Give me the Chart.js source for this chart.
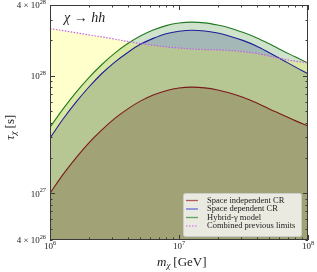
<!DOCTYPE html>
<html>
<head>
<meta charset="utf-8">
<script src="https://cdn.jsdelivr.net/npm/chart.js@4.4.1/dist/chart.umd.min.js"></script>
<style>
  html, body { margin: 0; padding: 0; background: #fff; }
</style>
</head>
<body>
<canvas id="chart" width="317" height="272"></canvas>
<script>
// masses (GeV) and lifetime limits (s)
const masses = [1e6, 1.259e6, 1.585e6, 1.995e6, 2.512e6, 3.162e6, 3.981e6, 5.012e6, 6.310e6, 7.943e6,
                1e7, 1.259e7, 1.585e7, 1.995e7, 2.512e7, 3.162e7, 3.981e7, 5.012e7, 6.310e7, 7.943e7, 1e8];
const spaceIndependent = [1.00e27, 1.44e27, 1.99e27, 2.67e27, 3.44e27, 4.31e27, 5.20e27, 6.08e27, 6.85e27, 7.46e27,
                          7.87e27, 8.00e27, 7.89e27, 7.57e27, 7.10e27, 6.53e27, 5.89e27, 5.22e27, 4.66e27, 4.15e27, 3.74e27];
const spaceDependent = [2.95e27, 4.26e27, 5.93e27, 7.98e27, 1.04e28, 1.30e28, 1.57e28, 1.85e28, 2.08e28, 2.28e28,
                        2.39e28, 2.44e28, 2.40e28, 2.31e28, 2.16e28, 1.99e28, 1.79e28, 1.57e28, 1.37e28, 1.19e28, 1.04e28];
const hybridGamma = [3.64e27, 5.20e27, 7.19e27, 9.60e27, 1.24e28, 1.55e28, 1.87e28, 2.18e28, 2.45e28, 2.67e28,
                     2.81e28, 2.86e28, 2.82e28, 2.70e28, 2.54e28, 2.33e28, 2.11e28, 1.87e28, 1.64e28, 1.45e28, 1.28e28];
const combinedPrevious = [2.52e28, 2.42e28, 2.32e28, 2.23e28, 2.14e28, 2.05e28, 1.96e28, 1.88e28, 1.82e28, 1.76e28,
                          1.72e28, 1.69e28, 1.67e28, 1.66e28, 1.64e28, 1.60e28, 1.55e28, 1.47e28, 1.39e28, 1.33e28, 1.29e28];

const seriesLabels = ['Space independent CR', 'Space dependent CR', 'Hybrid-\u03b3 model', 'Combined previous limits'];
const xTicks = [1e6, 1e7, 1e8];
const xTickLabels = ['10^6', '10^7', '10^8'];
const yTicks = [4e26, 1e27, 1e28, 4e28];
const yTickLabels = ['4 \u00d7 10^26', '10^27', '10^28', '4 \u00d7 10^28'];

const SERIF = "'Liberation Serif', 'DejaVu Serif', serif";

const toPoints = ys => masses.map((m, i) => ({ x: m, y: ys[i] }));

// draw "base^exp" text with a raised smaller exponent
function drawPowText(ctx, text, x, y, size, align) {
    const parts = text.split('^');
    const base = parts[0], exp = parts[1] || '';
    ctx.font = size + 'px ' + SERIF;
    const wb = ctx.measureText(base).width;
    ctx.font = (size * 0.7) + 'px ' + SERIF;
    const we = ctx.measureText(exp).width;
    const total = wb + we;
    let x0 = x;
    if (align === 'center') x0 = x - total / 2;
    else if (align === 'right') x0 = x - total;
    ctx.textAlign = 'left';
    ctx.textBaseline = 'middle';
    ctx.font = size + 'px ' + SERIF;
    ctx.fillText(base, x0, y);
    ctx.font = (size * 0.7) + 'px ' + SERIF;
    ctx.fillText(exp, x0 + wb, y - size * 0.38);
}

const framePlugin = {
    id: 'frame',
    afterDraw(chart) {
        const ctx = chart.ctx;
        const a = chart.chartArea;
        const xs = chart.scales.x, ys = chart.scales.y;
        ctx.save();

        // frame
        ctx.strokeStyle = '#3a3a3a';
        ctx.lineWidth = 1;
        ctx.strokeRect(a.left + 0.5, a.top + 0.5, a.right - a.left - 1, a.bottom - a.top - 1);

        // inward ticks on all sides
        ctx.beginPath();
        for (let d = 6; d <= 8; d++) {
            for (let k = 1; k <= 9; k++) {
                const v = k * Math.pow(10, d);
                if (v < 1e6 || v > 1e8) continue;
                const px = Math.round(xs.getPixelForValue(v)) + 0.5;
                const len = k === 1 ? 5 : 2.5;
                ctx.moveTo(px, a.bottom); ctx.lineTo(px, a.bottom - len);
                ctx.moveTo(px, a.top); ctx.lineTo(px, a.top + len);
            }
        }
        for (let d = 26; d <= 28; d++) {
            for (let k = 1; k <= 9; k++) {
                const v = k * Math.pow(10, d);
                if (v < 4e26 || v > 4e28) continue;
                const py = Math.round(ys.getPixelForValue(v)) + 0.5;
                const len = (k === 1) ? 5 : 2.5;
                ctx.moveTo(a.left, py); ctx.lineTo(a.left + len, py);
                ctx.moveTo(a.right, py); ctx.lineTo(a.right - len, py);
            }
        }
        ctx.stroke();

        // tick labels
        ctx.fillStyle = '#222';
        xTicks.forEach((v, i) => {
            drawPowText(ctx, xTickLabels[i], xs.getPixelForValue(v), a.bottom + 7, 9, 'center');
        });
        yTicks.forEach((v, i) => {
            drawPowText(ctx, yTickLabels[i], a.left - 4, ys.getPixelForValue(v) + 1, 9, 'right');
        });

        // axis titles
        ctx.textBaseline = 'middle';
        ctx.textAlign = 'left';
        let cx = (a.left + a.right) / 2 - 22, cy = 263;
        ctx.font = 'italic 13px ' + SERIF;
        ctx.fillText('m', cx, cy);
        let w = ctx.measureText('m').width;
        ctx.font = 'italic 9px ' + SERIF;
        ctx.fillText('\u03c7', cx + w, cy + 3);
        w += ctx.measureText('\u03c7').width + 3;
        ctx.font = '13px ' + SERIF;
        ctx.fillText('[GeV]', cx + w, cy);

        ctx.save();
        ctx.translate(11, 122);
        ctx.rotate(-Math.PI / 2);
        ctx.font = 'italic 13px ' + SERIF;
        ctx.fillText('\u03c4', -18, 0);
        w = ctx.measureText('\u03c4').width;
        ctx.font = 'italic 9px ' + SERIF;
        ctx.fillText('\u03c7', -18 + w, 3);
        w += ctx.measureText('\u03c7').width + 3;
        ctx.font = '13px ' + SERIF;
        ctx.fillText('[s]', -18 + w, 0);
        ctx.restore();

        // channel label
        ctx.font = 'italic 14px ' + SERIF;
        ctx.textBaseline = 'alphabetic';
        ctx.fillText('\u03c7 \u2192 hh', 64, 22);

        // legend
        const lx = 183, ly = 193, lw = 118, lh = 43;
        ctx.fillStyle = 'rgba(255,255,255,0.78)';
        ctx.strokeStyle = '#cccccc';
        ctx.beginPath();
        ctx.roundRect(lx + 0.5, ly + 0.5, lw, lh, 2);
        ctx.fill();
        ctx.stroke();
        const legendColors = ['#b05a5a', '#6a6ad8', '#5aa55a', '#d78ef0'];
        ctx.font = '8.5px ' + SERIF;
        ctx.textBaseline = 'middle';
        seriesLabels.forEach((lab, i) => {
            const yy = ly + 7.5 + i * 8.5;
            ctx.strokeStyle = legendColors[i];
            ctx.lineWidth = 1.3;
            ctx.setLineDash(i === 3 ? [1.5, 1.5] : []);
            ctx.beginPath();
            ctx.moveTo(lx + 3, yy);
            ctx.lineTo(lx + 15, yy);
            ctx.stroke();
            ctx.setLineDash([]);
            ctx.fillStyle = '#222';
            ctx.fillText(lab, lx + 24, yy);
        });
        ctx.restore();
    }
};

new Chart(document.getElementById('chart').getContext('2d'), {
    type: 'line',
    data: {
        datasets: [
            {
                label: seriesLabels[0],
                data: toPoints(spaceIndependent),
                borderColor: '#7a1a1a',
                backgroundColor: 'rgba(114,76,57,0.3)',
                borderWidth: 1.1,
                fill: 'start',
                order: 0
            },
            {
                label: seriesLabels[1],
                data: toPoints(spaceDependent),
                borderColor: '#1e1e96',
                backgroundColor: 'rgba(20,40,110,0.22)',
                borderWidth: 1.1,
                fill: 'start',
                order: 2
            },
            {
                label: seriesLabels[2],
                data: toPoints(hybridGamma),
                borderColor: '#237a23',
                backgroundColor: 'rgba(60,140,50,0.25)',
                borderWidth: 1.1,
                fill: 'start',
                order: 3
            },
            {
                label: seriesLabels[3],
                data: toPoints(combinedPrevious),
                borderColor: '#c060e8',
                backgroundColor: 'rgba(255,255,0,0.2)',
                borderWidth: 1.2,
                borderDash: [1.5, 1.5],
                fill: 'start',
                order: 1
            }
        ]
    },
    options: {
        responsive: false,
        animation: false,
        devicePixelRatio: 1,
        layout: { padding: { top: 5, right: 9, left: 0, bottom: 0 } },
        elements: {
            point: { radius: 0 },
            line: { cubicInterpolationMode: 'monotone' }
        },
        plugins: {
            legend: { display: false },
            tooltip: { enabled: false },
            filler: { drawTime: 'beforeDatasetsDraw' }
        },
        scales: {
            x: {
                type: 'logarithmic',
                min: 1e6,
                max: 1e8,
                grid: { display: false },
                border: { display: false },
                ticks: { display: false },
                afterFit: s => { s.height = 32; }
            },
            y: {
                type: 'logarithmic',
                min: 4e26,
                max: 4e28,
                grid: { display: false },
                border: { display: false },
                ticks: { display: false },
                afterFit: s => { s.width = 50; }
            }
        }
    },
    plugins: [framePlugin]
});
</script>
</body>
</html>
